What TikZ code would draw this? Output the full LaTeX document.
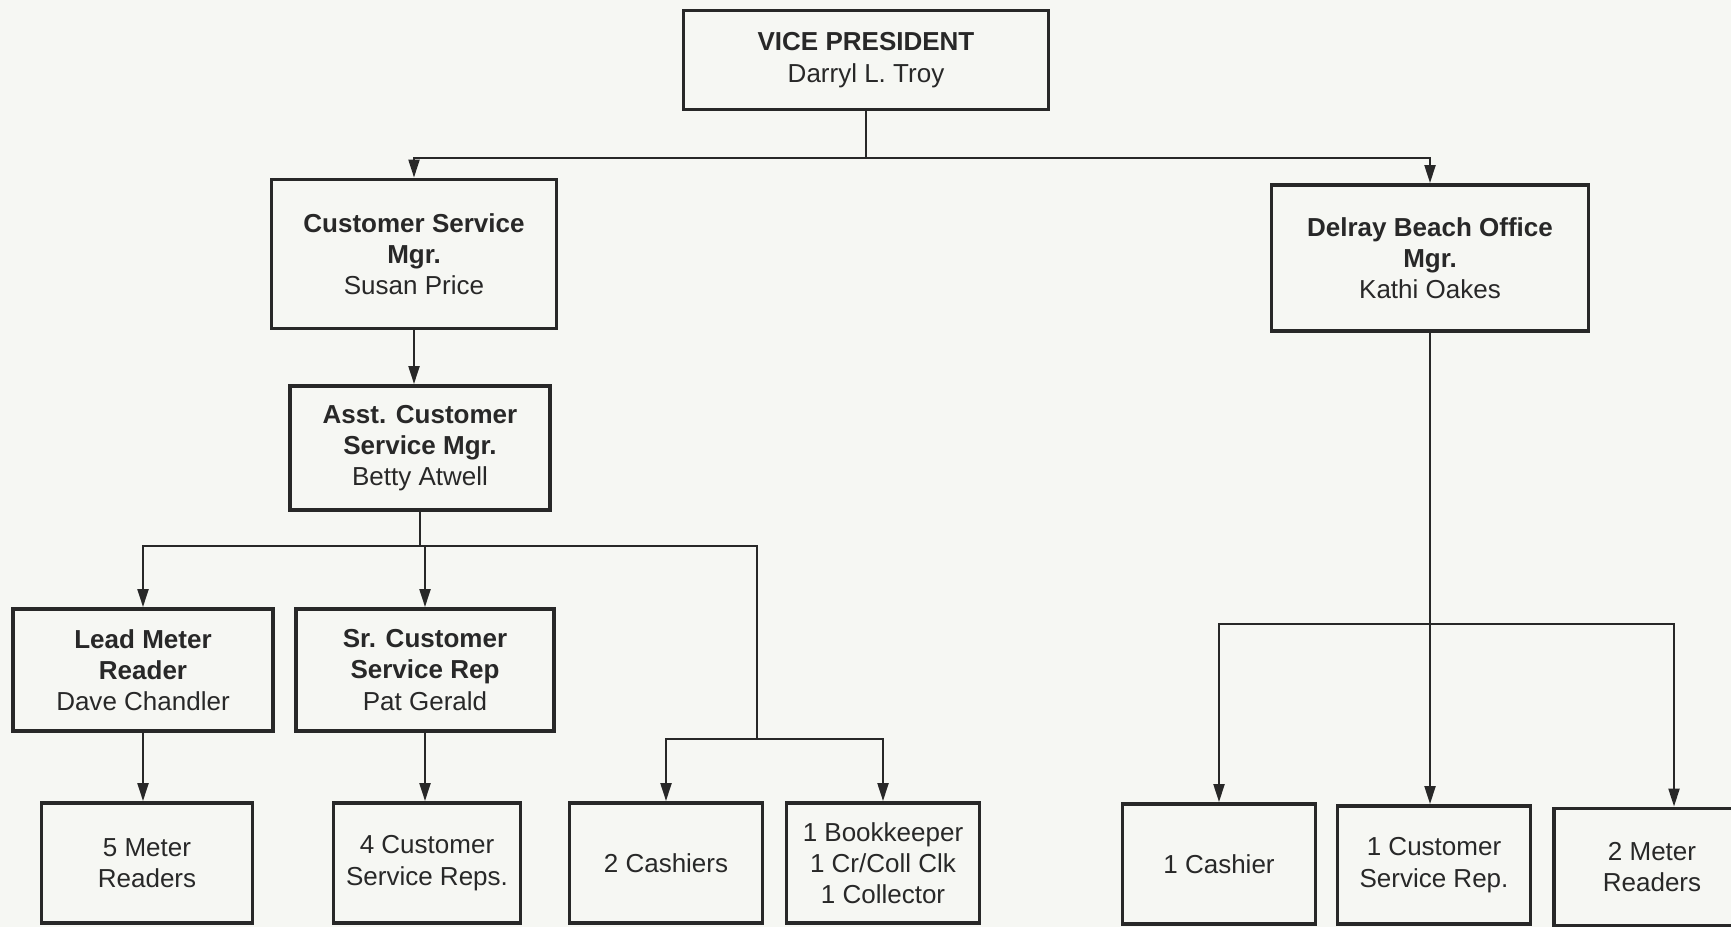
\documentclass[tikz,border=0pt]{standalone}
\usepackage{fontspec}
\setmainfont{Liberation Sans}
\usepackage{xcolor}
\usepackage{tikz}
\usetikzlibrary{arrows.meta, positioning, calc}
\definecolor{ink}{RGB}{40,40,40}
\definecolor{paper}{RGB}{246,247,243}
\newcommand{\post}[1]{\textbf{#1}}

\begin{document}
\begin{tikzpicture}[x=0.1mm, y=-0.1mm,
    box/.style={draw=ink, line width=1.1pt, text=ink, inner sep=0pt,
                align=center, font=\fontsize{7.4}{8.9}\selectfont},
    conn/.style={draw=ink, line width=0.6pt},
    arr/.style={conn, -{Triangle[length=1.8mm, width=1.1mm]}}]
  \useasboundingbox (0,0) rectangle (1731,927);
  \clip (0,0) rectangle (1731,927);
  \fill[paper] (0,0) rectangle (1731,927);

  % top of the chart
  \node[box, minimum width=36.5mm, minimum height=9.9mm] (vp) at (866,60)
    {\post{VICE PRESIDENT}\\Darryl L. Troy};

  % customer service branch
  \node[box, minimum width=28.5mm, minimum height=14.9mm] (csm) at (414,254)
    {\post{Customer Service}\\\post{Mgr.}\\Susan Price};
  \node[box, minimum width=26mm, minimum height=12.4mm] (acsm) at (420,448)
    {\post{Asst. Customer}\\\post{Service Mgr.}\\Betty Atwell};
  \node[box, minimum width=26mm, minimum height=12.2mm] (lead) at (143,670)
    {\post{Lead Meter}\\\post{Reader}\\Dave Chandler};
  \node[box, minimum width=25.8mm, minimum height=12.2mm] (sr) at (425,670)
    {\post{Sr. Customer}\\\post{Service Rep}\\Pat Gerald};

  % bottom row, left
  \node[box, minimum width=21.1mm, minimum height=12mm] (mr5) at (147,863)
    {5 Meter\\Readers};
  \node[box, minimum width=18.7mm, minimum height=12mm] (csr4) at (427,863)
    {4 Customer\\Service Reps.};
  \node[box, minimum width=19.3mm, minimum height=12mm] (cash2) at (666,863)
    {2 Cashiers};
  \node[box, minimum width=19.3mm, minimum height=12mm] (bk) at (883,863)
    {1 Bookkeeper\\1 Cr/Coll Clk\\1 Collector};

  % Delray Beach office
  \node[box, minimum width=31.7mm, minimum height=14.6mm] (delray) at (1430,258)
    {\post{Delray Beach Office}\\\post{Mgr.}\\Kathi Oakes};
  \node[box, minimum width=19.3mm, minimum height=12mm] (cash1) at (1219,864)
    {1 Cashier};
  \node[box, minimum width=19.3mm, minimum height=11.8mm] (csr1) at (1434,865)
    {1 Customer\\Service Rep.};
  \node[box, minimum width=19.6mm, minimum height=11.7mm] (mr2) at (1652,867)
    {2 Meter\\Readers};

  % connectors
  \coordinate (vpbus) at (866,158);
  \draw[conn] (vp.south) -- (vpbus);
  \draw[arr] (vpbus) -| (csm.north);
  \draw[arr] (vpbus) -| (delray.north);
  \draw[arr] (csm.south) -- (csm.south |- acsm.north);

  \coordinate (abus) at (420,546);
  \draw[conn] (acsm.south) -- (abus);
  \draw[arr] (abus) -| (lead.north);
  \draw[arr] (abus) -| (sr.north);
  \coordinate (cbus) at (757,739);
  \draw[conn] (abus) -| (cbus);
  \draw[arr] (cbus) -| (cash2.north);
  \draw[arr] (cbus) -| (bk.north);
  \draw[arr] (lead.south) -- (lead.south |- mr5.north);
  \draw[arr] (sr.south) -- (sr.south |- csr4.north);

  \coordinate (dbus) at (1432,624);
  \draw[arr] (delray.south) -- (delray.south |- csr1.north);
  \draw[arr] (dbus) -| (cash1.north);
  \draw[arr] (dbus) -| ($(mr2.north)+(22,0)$);
\end{tikzpicture}
\end{document}
